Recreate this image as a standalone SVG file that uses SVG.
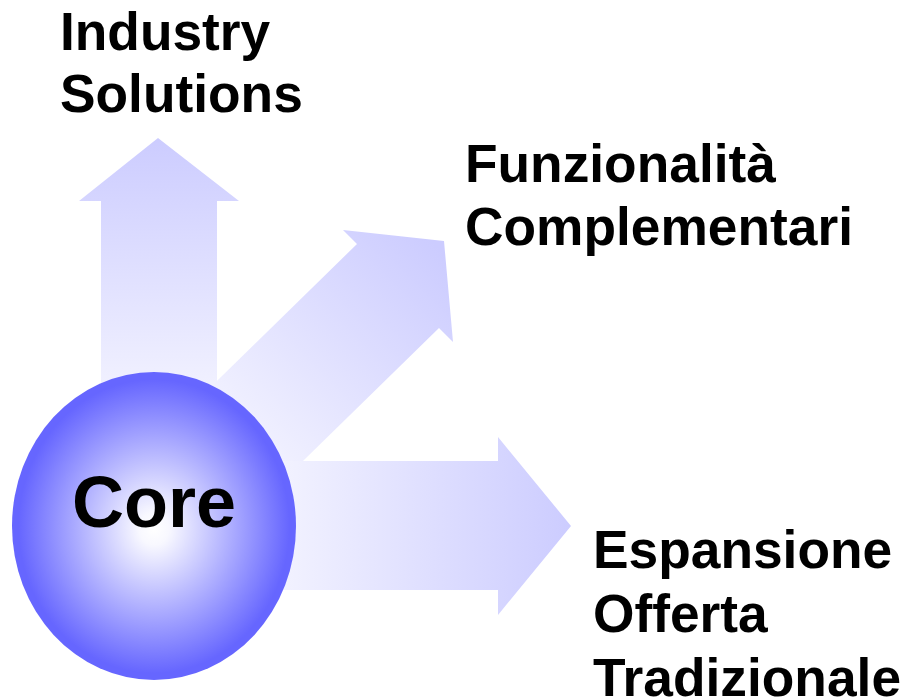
<svg xmlns="http://www.w3.org/2000/svg" width="907" height="699" viewBox="0 0 907 699">
  <style>
    .lbl { font-family: "Liberation Sans", Arial, sans-serif; font-weight: bold; font-size: 53.3px; fill: #000; }
    .core { font-family: "Liberation Sans", Arial, sans-serif; font-weight: bold; font-size: 72px; fill: #000; }
  </style>
  <defs>
    <linearGradient id="gUp" gradientUnits="userSpaceOnUse" x1="0" y1="138" x2="0" y2="410">
      <stop offset="0" stop-color="#CCCCFF"/>
      <stop offset="1" stop-color="#F4F4FF"/>
    </linearGradient>
    <linearGradient id="gDiag" gradientUnits="userSpaceOnUse" x1="440" y1="250" x2="215" y2="475">
      <stop offset="0" stop-color="#CCCCFF"/>
      <stop offset="1" stop-color="#F8F8FF"/>
    </linearGradient>
    <linearGradient id="gRight" gradientUnits="userSpaceOnUse" x1="571" y1="0" x2="220" y2="0">
      <stop offset="0" stop-color="#CCCCFF"/>
      <stop offset="1" stop-color="#FAFAFF"/>
    </linearGradient>
    <radialGradient id="gCore" cx="0.5" cy="0.5" r="0.53" fx="0.5" fy="0.51">
      <stop offset="0" stop-color="#FFFFFF"/>
      <stop offset="0.1" stop-color="#F8F8FF"/>
      <stop offset="0.9" stop-color="#6666FF"/>
      <stop offset="1" stop-color="#6666FF"/>
    </radialGradient>
  </defs>

  <g id="arrows">
    <polygon id="arrow-up" fill="url(#gUp)" points="101,420 101,201 79,201 158,138 239,201 217,201 217,420"/>
    <polygon id="arrow-diag" fill="url(#gDiag)" points="178,419 357,244 343,230 444,241 453,342 439,328 260,503"/>
    <polygon id="arrow-right" fill="url(#gRight)" points="200,461 498,461 498,437 571,526 498,615 498,590 200,590"/>
  </g>

  <g id="core">
    <ellipse cx="154" cy="526" rx="142" ry="154" fill="url(#gCore)"/>
    <text class="core" x="154" y="527" text-anchor="middle">Core</text>
  </g>

  <g id="industry">
    <text class="lbl" x="60" y="50">Industry</text>
    <text class="lbl" x="60" y="112">Solutions</text>
  </g>

  <g id="funzionalita">
    <text class="lbl" x="465" y="182">Funzionalità</text>
    <text class="lbl" x="465" y="245">Complementari</text>
  </g>

  <g id="espansione">
    <text class="lbl" x="593" y="568">Espansione</text>
    <text class="lbl" x="593" y="632">Offerta</text>
    <text class="lbl" x="593" y="696">Tradizionale</text>
  </g>
</svg>
